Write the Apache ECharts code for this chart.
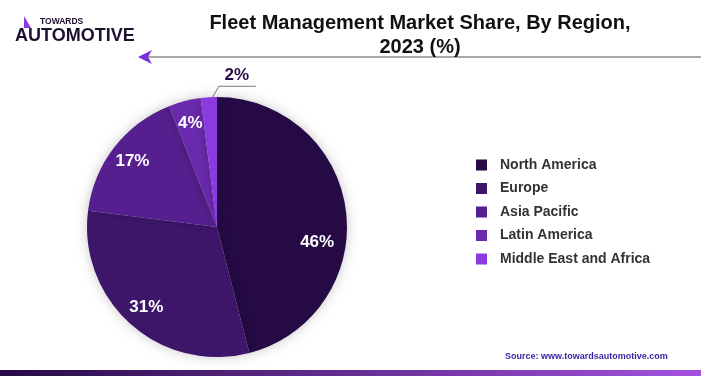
<!DOCTYPE html>
<html><head><meta charset="utf-8">
<script src="https://cdn.jsdelivr.net/npm/echarts@6/dist/echarts.min.js"></script>
<style>html,body{margin:0;padding:0;background:#fff}#c{width:701px;height:376px}</style>
</head><body><div id="c"></div>
<script>
const regions = ["North America", "Europe", "Asia Pacific", "Latin America", "Middle East and Africa"];
const shares = [46, 31, 17, 4, 2];
const colors = ["#250a45", "#3d166a", "#561f8f", "#6a2aae", "#8a3adf"];
const titleLines = ["Fleet Management Market Share, By Region,", "2023 (%)"];
const sourceText = "Source: www.towardsautomotive.com";

const chart = echarts.init(document.getElementById('c'), null, {renderer: 'canvas'});
const FONT = '"Liberation Sans", Arial, sans-serif';
const OUTSIDE_IDX = 4;
const baseData = regions.map((r, i) => ({
  name: r, value: shares[i], itemStyle: {color: colors[i]},
  label: {show: i === OUTSIDE_IDX},
  labelLine: {show: i === OUTSIDE_IDX}
}));

chart.setOption({
  animation: false,
  title: {
    text: titleLines.join('\n'), left: 415, top: 6, textAlign: 'center',
    textStyle: {fontFamily: FONT, fontWeight: 'bold', fontSize: 20, lineHeight: 24, color: '#111'}
  },
  legend: {
    orient: 'vertical', left: 471, top: 153, icon: 'rect', itemWidth: 11, itemHeight: 11, itemGap: 9.5,
    data: regions,
    textStyle: {fontFamily: FONT, fontWeight: 'bold', fontSize: 14, color: '#333', padding: [0, 0, 0, 8]}
  },
  graphic: [
    {type: 'text', left: 40, top: 17, style: {text: 'TOWARDS', font: 'bold 8.5px ' + FONT, fill: '#1d1030'}},
    {type: 'text', left: 15, top: 27, style: {text: 'AUTOMOTIVE', font: '900 18px ' + FONT, fill: '#1d1030'}},
    {type: 'polygon', shape: {points: [[24, 16], [31, 28], [24, 28]]}, style: {fill: '#8a3adf'}},
    {type: 'line', shape: {x1: 142, y1: 57, x2: 701, y2: 57}, style: {stroke: '#555', lineWidth: 1.2}},
    {type: 'polygon', shape: {points: [[138, 57], [152, 50], [148, 57], [152, 64]]}, style: {fill: '#7a2fd8'}},
    {type: 'text', left: 505, top: 352, style: {text: sourceText, font: 'bold 9px ' + FONT, fill: '#3b1fa6'}},
    {type: 'rect', shape: {x: 0, y: 370, width: 701, height: 6},
      style: {fill: new echarts.graphic.LinearGradient(0, 0, 1, 0, [{offset: 0, color: '#250a45'}, {offset: 1, color: '#a452e0'}])}}
  ],
  series: [
    {
      type: 'pie', center: [217, 227], radius: [0, 130], startAngle: 90, clockwise: true,
      data: baseData,
      itemStyle: {shadowBlur: 12, shadowColor: 'rgba(0,0,0,0.22)'},
      label: {
        position: 'outside', formatter: '{c}%',
        fontFamily: FONT, fontWeight: 'bold', fontSize: 17, color: '#2a0a45'
      },
      labelLine: {lineStyle: {color: '#777', width: 1}},
      labelLayout: function (params) {
        if (params.dataIndex !== OUTSIDE_IDX) return {};
        const p0 = params.labelLinePoints[0];
        return {
          x: p0[0] + 28, y: p0[1] - 22, align: 'center', verticalAlign: 'middle',
          labelLinePoints: [[p0[0] + 1, p0[1] + 5], [p0[0] + 10, p0[1] - 11], [p0[0] + 47, p0[1] - 11]]
        };
      },
      emphasis: {disabled: true}
    },
    {
      type: 'pie', center: [217, 227], radius: [78, 130], startAngle: 90, clockwise: true, silent: true,
      data: regions.map((r, i) => ({
        name: r, value: shares[i],
        label: i === 0 ? {offset: [-6, 29]} : {show: i !== OUTSIDE_IDX}
      })),
      itemStyle: {color: 'rgba(0,0,0,0)'},
      label: {show: true, position: 'inside', formatter: '{c}%', fontFamily: FONT, fontWeight: 'bold', fontSize: 17, color: '#fff'},
      labelLine: {show: false},
      legendHoverLink: false,
      emphasis: {disabled: true}
    }
  ]
});
</script></body></html>
